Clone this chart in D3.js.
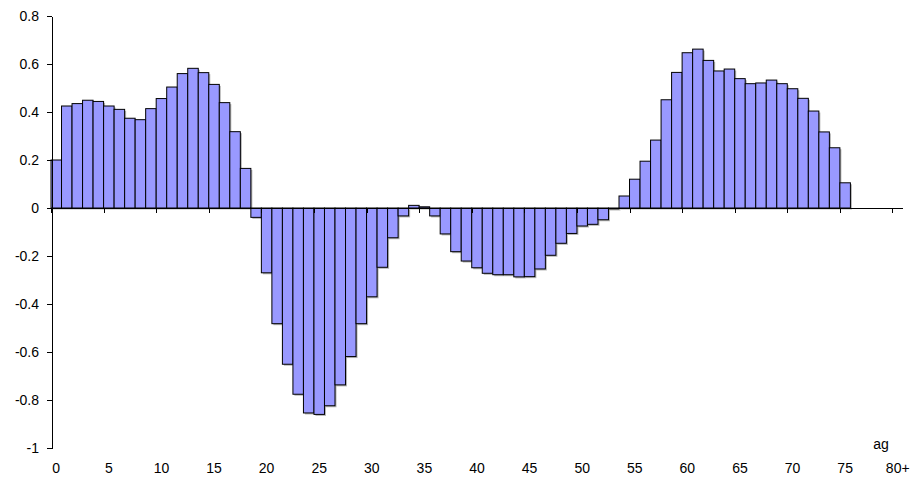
<!DOCTYPE html>
<html>
<head>
<meta charset="UTF-8" />
<style>
  body { margin: 0; background: #fff; }
  svg text { font-family: 'Liberation Sans', Arial, sans-serif; font-size: 14px; fill: #000; }
  .bar { fill: #9999ff; stroke: #000; stroke-width: 1px; }
  .shadow { fill: #777; opacity: 0.55; }
  .axis path, .axis line { stroke: #000; shape-rendering: crispEdges; }
</style>
</head>
<body>
<svg id="chart" width="912" height="482"></svg>
<script src="https://d3js.org/d3.v7.min.js"></script>
<script>
// ages 0..80+, bars only up to 75
const categories = d3.range(0, 81).map(String);
const values = [
  0.20, 0.425, 0.435, 0.449, 0.444, 0.425, 0.411, 0.374, 0.368, 0.414,
  0.456, 0.504, 0.560, 0.582, 0.564, 0.515, 0.439, 0.318, 0.165, -0.039,
  -0.27, -0.482, -0.651, -0.776, -0.854, -0.86, -0.824, -0.737, -0.619, -0.482,
  -0.37, -0.247, -0.124, -0.033, 0.011, 0.005, -0.033, -0.108, -0.182, -0.221,
  -0.249, -0.272, -0.278, -0.278, -0.287, -0.286, -0.254, -0.197, -0.147, -0.106,
  -0.075, -0.068, -0.049, -0.004, 0.05, 0.12, 0.195, 0.283, 0.451, 0.565,
  0.647, 0.662, 0.615, 0.571, 0.579, 0.539, 0.518, 0.521, 0.533, 0.518,
  0.497, 0.457, 0.404, 0.317, 0.251, 0.105
];
const yTicks = [-1, -0.8, -0.6, -0.4, -0.2, 0, 0.2, 0.4, 0.6, 0.8];
const xLabelCats = d3.range(0, 81, 5).map(String);
const xLabelText = d => d === "80" ? "80+" : d;
const axisTitle = "ag";

const svg = d3.select("#chart");
const x = d3.scaleBand().domain(categories).range([51, 903]).padding(0);
const y = d3.scaleLinear().domain([-1, 0.8]).range([448, 16]);

const data = values.map((v, i) => ({ cat: categories[i], v }));

// shadows
svg.append("g").selectAll("rect").data(data).join("rect")
  .attr("class", "shadow")
  .attr("x", d => x(d.cat) + 1.5)
  .attr("y", d => Math.min(y(d.v), y(0)) + 1.5)
  .attr("width", x.bandwidth())
  .attr("height", d => Math.abs(y(d.v) - y(0)));

svg.append("g").selectAll("rect").data(data).join("rect")
  .attr("class", "bar")
  .attr("x", d => x(d.cat))
  .attr("y", d => Math.min(y(d.v), y(0)))
  .attr("width", x.bandwidth())
  .attr("height", d => Math.abs(y(d.v) - y(0)));

// y axis (hyphen minus like the original)
const yAxis = svg.append("g").attr("class", "axis")
  .attr("transform", "translate(51.5,0)")
  .call(d3.axisLeft(y).tickValues(yTicks).tickSize(5).tickSizeOuter(0)
    .tickFormat(d => String(+d.toFixed(1))));
yAxis.selectAll("text").attr("x", -12.5)
  .style("font-size", "14px").style("font-family", "'Liberation Sans', Arial, sans-serif");

// x axis at zero line: ticks at left edges of every 5th category
const xg = svg.append("g").attr("class", "axis");
xg.append("line")
  .attr("x1", 51).attr("x2", 903)
  .attr("y1", Math.round(y(0)) + 0.5).attr("y2", Math.round(y(0)) + 0.5);
xg.selectAll(".tk").data(xLabelCats).join("line")
  .attr("class", "tk")
  .attr("x1", d => Math.round(x(d)) + 0.5).attr("x2", d => Math.round(x(d)) + 0.5)
  .attr("y1", Math.round(y(0))).attr("y2", Math.round(y(0)) + 5);

// category labels at the bottom
svg.append("g").selectAll("text").data(xLabelCats).join("text")
  .attr("x", d => x(d) + x.bandwidth() / 2)
  .attr("y", 473)
  .attr("text-anchor", "middle")
  .text(xLabelText);

svg.append("text")
  .attr("x", 881).attr("y", 449)
  .attr("text-anchor", "middle")
  .text(axisTitle);
</script>
</body>
</html>
